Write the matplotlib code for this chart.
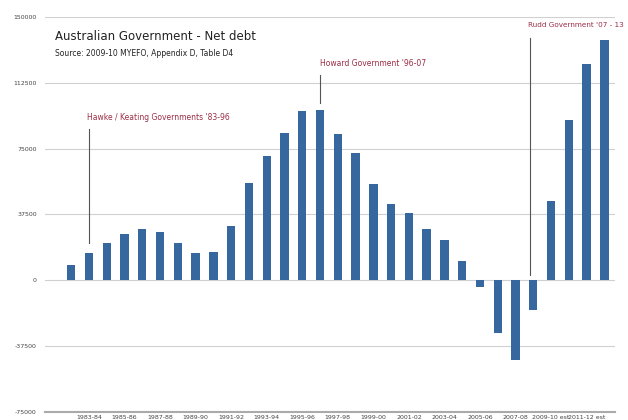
"""Australian Government net debt, 1982-83 to 2012-13."""
import matplotlib
matplotlib.use("Agg")
import matplotlib.pyplot as plt
import numpy as np

years = ["1982-83", "1983-84", "1984-85", "1985-86", "1986-87", "1987-88",
         "1988-89", "1989-90", "1990-91", "1991-92", "1992-93", "1993-94",
         "1994-95", "1995-96", "1996-97", "1997-98", "1998-99", "1999-00",
         "2000-01", "2001-02", "2002-03", "2003-04", "2004-05", "2005-06",
         "2006-07", "2007-08", "2008-09", "2009-10 est", "2010-11 est",
         "2011-12 est", "2012-13 est"]
net_debt = [8650, 15750, 21350, 26350, 29000, 27300, 21350, 15600, 16150,
            30750, 55200, 70800, 84050, 96150, 97100, 83100, 72500, 54800,
            43300, 38500, 29400, 22900, 10800, -4000, -29800, -45400, -16900,
            45200, 91300, 122900, 136700]
yticks = [-75000, -37500, 0, 37500, 75000, 112500, 150000]

x = np.arange(len(years))
red = "#9b2d45"

fig = plt.figure(figsize=(6.28, 4.2), dpi=100)
ax = fig.add_axes([0.072, 0.019, 0.908, 0.941])

ax.bar(x, net_debt, width=0.47, color="#36689f", zorder=3)

ax.set_ylim(-75000, 150000)
ax.set_xlim(-1.46, 30.62)
ax.set_yticks(yticks)
ax.set_yticklabels([str(v) for v in yticks], fontsize=4.5, color="#444444")
ax.set_xticks(x[1::2])
ax.set_xticklabels(years[1::2], fontsize=4.5, color="#444444")
ax.tick_params(length=0, pad=6)
ax.tick_params(axis="x", pad=2)
ax.grid(axis="y", color="#d0d0d0", lw=0.8, zorder=0)
for s in ["top", "right", "left"]:
    ax.spines[s].set_visible(False)
ax.spines["bottom"].set_color("#aaaaaa")
ax.spines["bottom"].set_linewidth(1.5)

# government annotations
ax.plot([1, 1], [21350, 86000], color="#555555", lw=0.8, zorder=4)
ax.text(0.9, 90000, "Hawke / Keating Governments '83-96", fontsize=5.5,
        color=red, va="bottom")
ax.plot([14, 14], [101000, 117100], color="#555555", lw=0.8, zorder=4)
ax.text(14, 120600, "Howard Government '96-07", fontsize=5.5,
        color=red, va="bottom")
ax.plot([25.83, 25.83], [2900, 137900], color="#555555", lw=0.8, zorder=4)
ax.text(25.7, 143650, "Rudd Government '07 - 13", fontsize=5.2,
        color=red, va="bottom", clip_on=False)

fig.text(0.088, 0.912, "Australian Government - Net debt", fontsize=8.5,
         color="#222222", va="center")
fig.text(0.088, 0.872, "Source: 2009-10 MYEFO, Appendix D, Table D4",
         fontsize=5.5, color="#222222", va="center")

fig.savefig("out.png", dpi=100)
